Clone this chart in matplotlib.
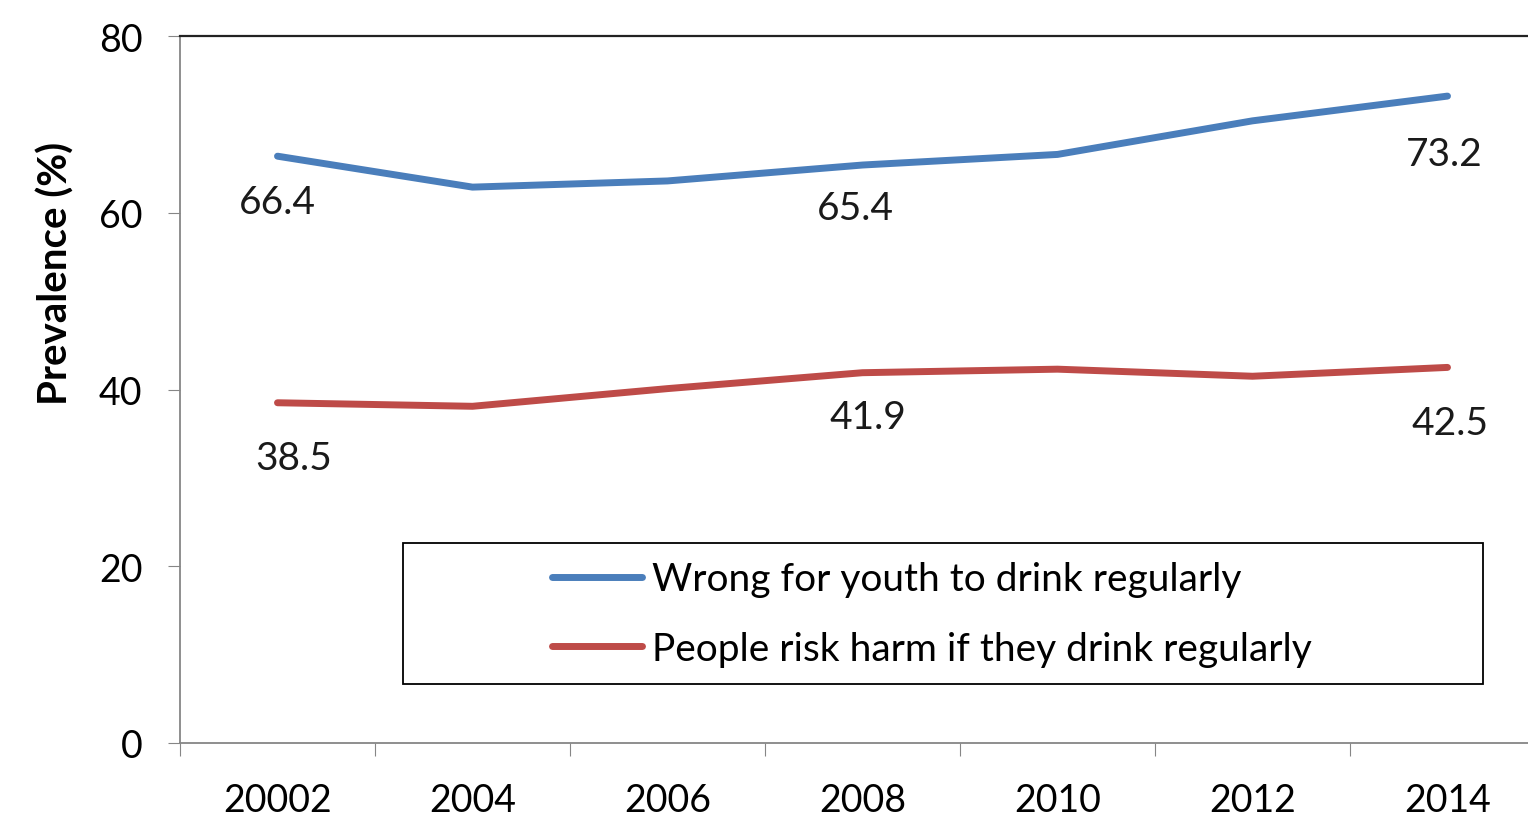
import numpy as np
import matplotlib.pyplot as plt
from matplotlib.patches import Rectangle

years = ['20002', '2004', '2006', '2008', '2010', '2012', '2014']
wrong_youth = [66.4, 62.9, 63.6, 65.4, 66.6, 70.4, 73.2]
risk_harm = [38.5, 38.1, 40.1, 41.9, 42.3, 41.5, 42.5]
series_names = ['Wrong for youth to drink regularly',
                'People risk harm if they drink regularly']
labelled_idx = [0, 3, 6]

# label offsets (points) below the line, as placed in the original chart
blue_offsets = [(0, -33), (-5, -31), (-2, -42)]
red_offsets = [(12, -40), (4, -32), (2, -40)]

plt.rcParams['font.family'] = ['Lato', 'DejaVu Sans']

fig = plt.figure(figsize=(15.28, 8.29), dpi=100)
W, H = 1528, 829
ax = fig.add_axes([180 / W, 1 - 744 / H, 1365 / W, 707 / H])

x = np.arange(len(years))
blue = '#4A7EBB'
red = '#BE4B48'
ax.plot(x, wrong_youth, color=blue, lw=5, solid_capstyle='round', label=series_names[0])
ax.plot(x, risk_harm, color=red, lw=5, solid_capstyle='round', label=series_names[1])

for i, off in zip(labelled_idx, blue_offsets):
    ax.annotate(f'{wrong_youth[i]}', (x[i], wrong_youth[i]), xytext=off,
                textcoords='offset points', ha='center', va='center', fontsize=28, color='#1a1a1a')
for i, off in zip(labelled_idx, red_offsets):
    ax.annotate(f'{risk_harm[i]}', (x[i], risk_harm[i]), xytext=off,
                textcoords='offset points', ha='center', va='center', fontsize=28, color='#1a1a1a')

ax.set_xlim(-0.5, 6.5)
ax.set_ylim(0, 80)
ax.set_yticks([0, 20, 40, 60, 80])
ax.set_xticks(np.arange(-0.5, 7, 1))
ax.set_xticklabels([])
ax.set_xticks(x, minor=True)
ax.set_xticklabels(years, minor=True)
ax.tick_params(axis='x', which='major', length=9, color='#868686', direction='out')
ax.tick_params(axis='x', which='minor', length=0, pad=28, labelsize=27)
ax.tick_params(axis='y', length=9, color='#868686', pad=18, labelsize=27)

for s in ['left', 'bottom']:
    ax.spines[s].set_color('#868686')
    ax.spines[s].set_linewidth(1.3)
ax.spines['top'].set_color('#222222')
ax.spines['top'].set_linewidth(1.6)
ax.spines['right'].set_visible(False)

ax.set_ylabel('Prevalence (%)', fontsize=29, fontweight='bold')
ax.yaxis.set_label_coords(-0.077, 0.666)

# legend box drawn separately to match the reference frame
box = Rectangle((223 / 1365, 59 / 707), 1080 / 1365, 141 / 707, transform=ax.transAxes,
                fill=False, ec='black', lw=1.3, zorder=5)
ax.add_patch(box)
ax.legend(loc='center', bbox_to_anchor=(0.551, 129 / 707), frameon=False, fontsize=28,
          handlelength=2.3, handletextpad=0.26, labelspacing=0.85)

fig.savefig('out.png', dpi=100)
